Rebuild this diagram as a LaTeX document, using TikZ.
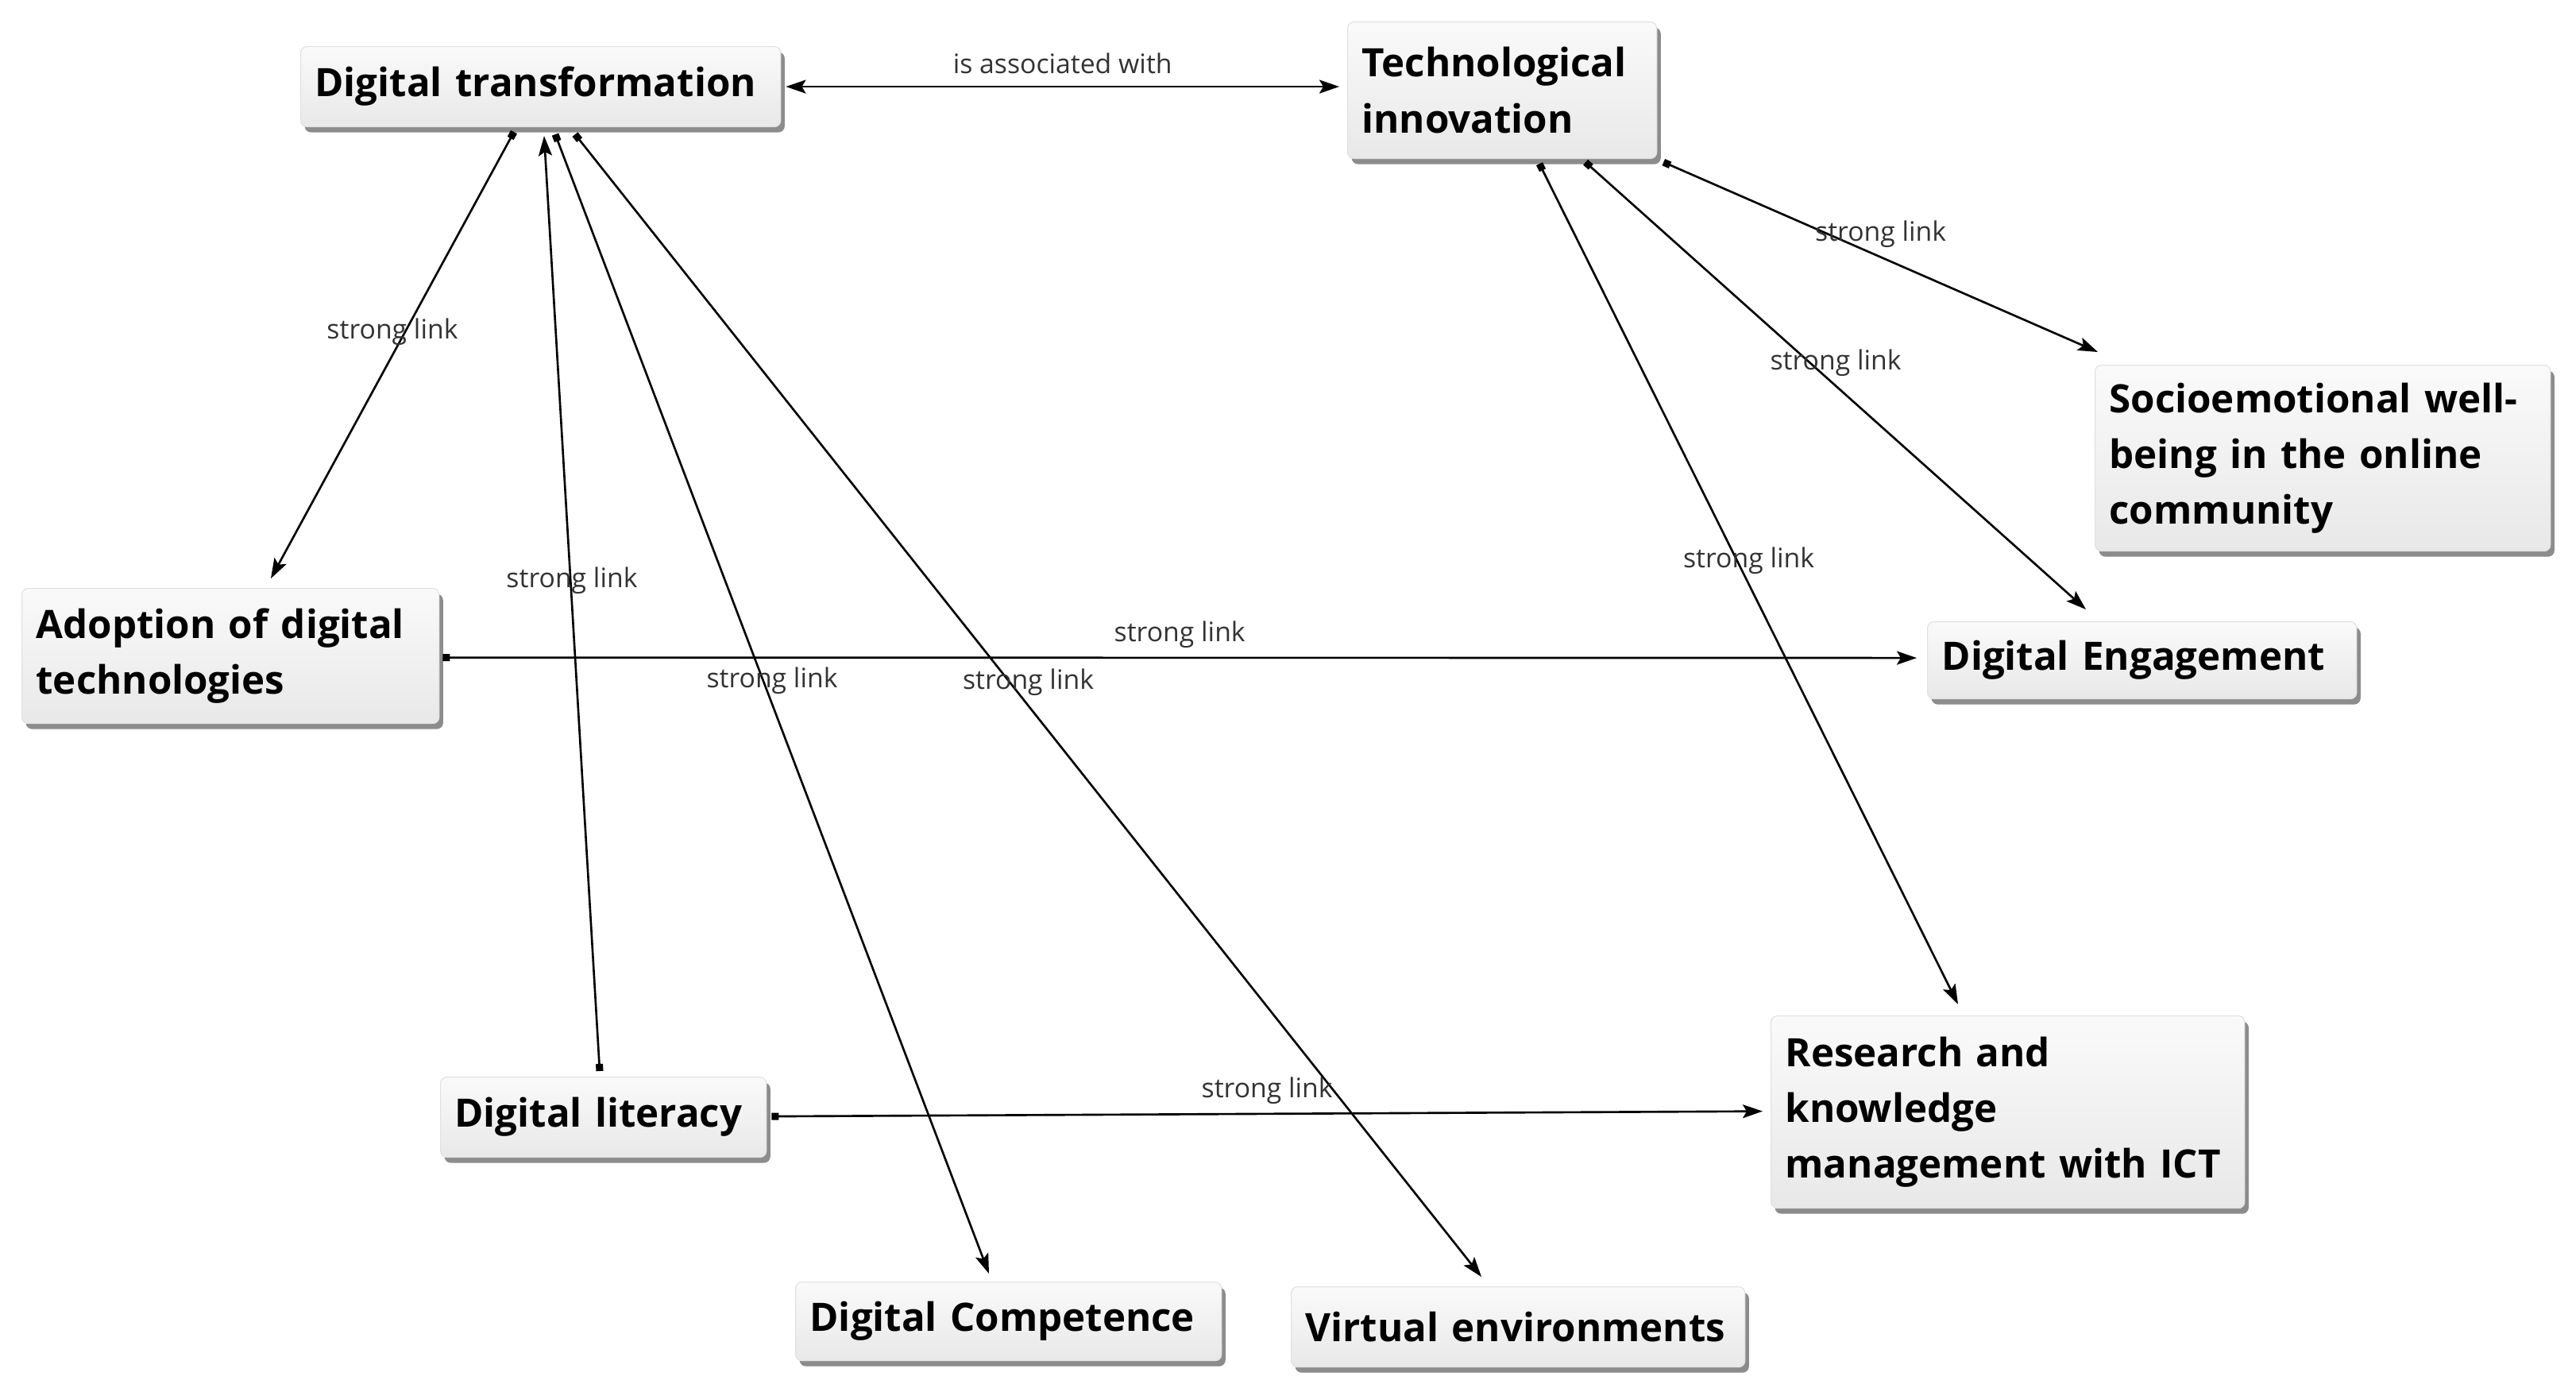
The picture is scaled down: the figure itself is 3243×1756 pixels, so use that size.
\documentclass[tikz,border=0pt]{standalone}
\usepackage{fontspec}
\setmainfont{Open Sans}
\usetikzlibrary{arrows.meta,shadows,calc}
\newcommand{\oneline}[1]{\mbox{#1}}
\begin{document}
\begin{tikzpicture}[x=0.01cm,y=-0.01cm,
  box/.style={rectangle, rounded corners=0.08cm, anchor=north west, align=left,
    inner xsep=0.18cm, inner ysep=0pt,
    font=\bfseries\fontsize{14}{20}\selectfont,
    top color=black!2, bottom color=black!9, draw=black!12, line width=0.3pt,
    drop shadow={shadow xshift=0.05cm, shadow yshift=-0.07cm, fill=black!75, opacity=0.6}},
  tip/.style={Stealth[length=0.25cm,width=0.17cm,inset=0.05cm]},
  con/.style={line width=0.75pt, {Square[length=0.09cm,width=0.09cm]}-{Stealth[length=0.25cm,width=0.17cm,inset=0.05cm]}},
  biarrow/.style={line width=0.75pt, {Stealth[length=0.25cm,width=0.17cm,inset=0.05cm]}-{Stealth[length=0.25cm,width=0.17cm,inset=0.05cm]}},
  lbl/.style={midway, yshift=0.29cm, font=\fontsize{9.6}{11}\selectfont, text=black!80, inner sep=0pt}
]
\useasboundingbox[fill=white] (0,0) rectangle (3243,1756);

\node[box, text width=5.68cm, minimum height=1.01cm] (dt) at (378,58) {\oneline{Digital transformation}};
\node[box, text width=3.53cm, minimum height=1.72cm] (ti) at (1696,27) {\oneline{Technological}\\\oneline{innovation}\\[-4pt]};
\node[box, text width=5.37cm, minimum height=2.34cm] (se) at (2637,459) {\oneline{Socioemotional well-}\\\oneline{being in the online}\\\oneline{community}};
\node[box, text width=4.89cm, minimum height=1.70cm] (ad) at (27,740) {\oneline{Adoption of digital}\\\oneline{technologies}};
\node[box, text width=5.04cm, minimum height=0.97cm] (de) at (2426,782) {\oneline{Digital Engagement}};
\node[box, text width=3.74cm, minimum height=1.01cm] (dl) at (554,1355) {\oneline{Digital literacy}};
\node[box, text width=5.60cm, minimum height=2.42cm] (rk) at (2229,1278) {\oneline{Research and}\\\oneline{knowledge}\\\oneline{management with ICT}};
\node[box, text width=5.00cm, minimum height=0.99cm] (dc) at (1001,1613) {\oneline{Digital Competence}};
\node[box, text width=5.35cm, minimum height=1.01cm] (ve) at (1625,1619) {\oneline{Virtual environments}};

\draw[biarrow] ($(dt.east)+(6,0)$) -- node[lbl]{is associated with} ($(ti.west |- dt.east)+(-10,0)$);
\draw[con] ($(dt.south west)+(269,6)$) -- node[lbl]{strong link} ($(ad.north west)+(314,-12)$);
\draw[con] ($(dl.north west)+(201,-7)$) -- node[lbl]{strong link} ($(dt.south west)+(307,11)$);
\draw[con] ($(dt.south west)+(321,9)$) -- node[lbl]{strong link} ($(dc.north west)+(244,-10)$);
\draw[con] ($(dt.south west)+(346,9)$) -- node[lbl]{strong link} ($(ve.north west)+(240,-12)$);
\draw[con] ($(ti.south east)+(8,4)$) -- node[lbl]{strong link} ($(se.north west)+(4,-16)$);
\draw[con] ($(ti.south west)+(300,4)$) -- node[lbl]{strong link} ($(de.north west)+(200,-15)$);
\draw[con] ($(ti.south west)+(242,6)$) -- node[lbl]{strong link} ($(rk.north west)+(236,-14)$);
\draw[con] ($(ad.east)+(4,2)$) -- node[lbl]{strong link} ($(de.west)+(-13,-3)$);
\draw[con] ($(dl.east)+(6,-1)$) -- node[lbl]{strong link} ($(rk.west)+(-10,-1)$);
\end{tikzpicture}
\end{document}
